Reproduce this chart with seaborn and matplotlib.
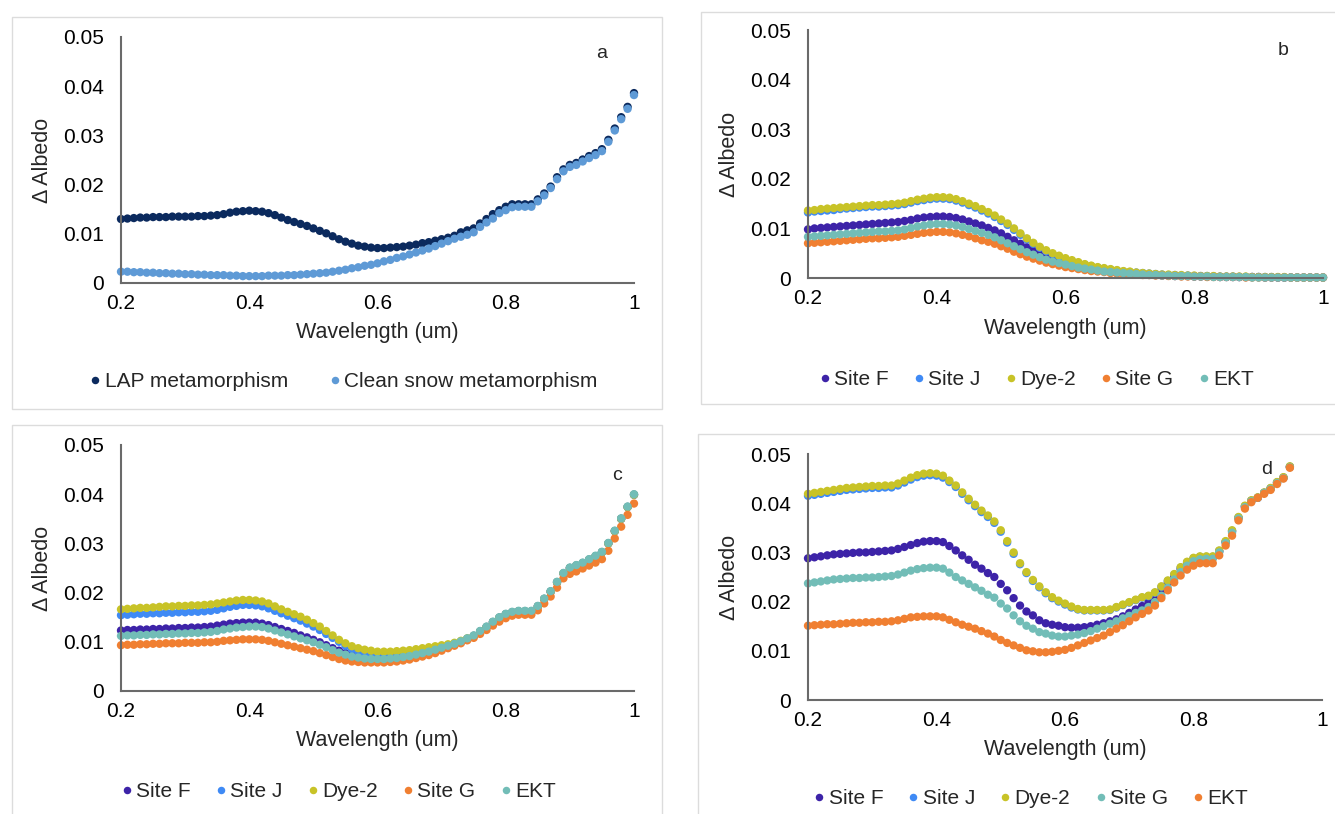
import numpy as np
import pandas as pd
import seaborn as sns
import matplotlib.pyplot as plt
from matplotlib.patches import Rectangle

# wavelength grid (um), 0.01 step
wl = np.round(np.arange(0.20, 1.001, 0.01), 2)
wl_d = wl[:76]  # panel d stops at 0.95

y_ticks = [0, 0.01, 0.02, 0.03, 0.04, 0.05]
y_tick_labels = ['0', '0.01', '0.02', '0.03', '0.04', '0.05']
x_ticks = [0.2, 0.4, 0.6, 0.8, 1.0]
x_tick_labels = ['0.2', '0.4', '0.6', '0.8', '1']

# ---- panel a
a_names = ['LAP metamorphism', 'Clean snow metamorphism']
a_lap = [0.0130, 0.0131, 0.0132, 0.0133, 0.0133, 0.0134, 0.0134, 0.0134, 0.0135, 0.0135,
         0.0135, 0.0135, 0.0136, 0.0136, 0.0137, 0.0138, 0.0140, 0.0143, 0.0145, 0.0146,
         0.0147, 0.0146, 0.0145, 0.0142, 0.0138, 0.0133, 0.0128, 0.0124, 0.0120, 0.0116,
         0.0111, 0.0106, 0.0101, 0.0095, 0.0089, 0.0084, 0.0080, 0.0076, 0.0074, 0.0072,
         0.0071, 0.0071, 0.0072, 0.0073, 0.0074, 0.0076, 0.0078, 0.0081, 0.0083, 0.0086,
         0.0089, 0.0092, 0.0096, 0.0103, 0.0107, 0.0111, 0.0121, 0.0130, 0.0140, 0.0148,
         0.0155, 0.0160, 0.0160, 0.0160, 0.0160, 0.0170, 0.0182, 0.0196, 0.0215, 0.0231,
         0.0240, 0.0244, 0.0251, 0.0258, 0.0264, 0.0272, 0.0291, 0.0314, 0.0337, 0.0358, 0.0386]
a_clean = [0.0023, 0.0023, 0.0022, 0.0022, 0.0021, 0.0021, 0.0020, 0.0020, 0.0019, 0.0019,
           0.0018, 0.0018, 0.0017, 0.0017, 0.0016, 0.0016, 0.0016, 0.0015, 0.0015, 0.0014,
           0.0014, 0.0014, 0.0014, 0.0015, 0.0015, 0.0015, 0.0016, 0.0016, 0.0017, 0.0018,
           0.0019, 0.0020, 0.0021, 0.0023, 0.0025, 0.0027, 0.0030, 0.0032, 0.0035, 0.0037,
           0.0040, 0.0044, 0.0047, 0.0051, 0.0054, 0.0058, 0.0062, 0.0066, 0.0070, 0.0075,
           0.0080, 0.0085, 0.0090, 0.0094, 0.0098, 0.0103, 0.0114, 0.0123, 0.0131, 0.0142,
           0.0148, 0.0154, 0.0155, 0.0155, 0.0155, 0.0166, 0.0178, 0.0193, 0.0211, 0.0227,
           0.0236, 0.0240, 0.0247, 0.0254, 0.0260, 0.0268, 0.0287, 0.0310, 0.0333, 0.0354, 0.0382]

# ---- panel b
b_names = ['Site F', 'Site J', 'Dye-2', 'Site G', 'EKT']
b_sitef = [0.0098, 0.0100, 0.0101, 0.0102, 0.0103, 0.0104, 0.0105, 0.0106, 0.0107, 0.0108,
           0.0109, 0.0110, 0.0111, 0.0112, 0.0113, 0.0115, 0.0117, 0.0120, 0.0122, 0.0123,
           0.0124, 0.0124, 0.0123, 0.0121, 0.0118, 0.0114, 0.0110, 0.0106, 0.0101, 0.0096,
           0.0090, 0.0083, 0.0076, 0.0069, 0.0062, 0.0055, 0.0049, 0.0044, 0.0039, 0.0035,
           0.0031, 0.0028, 0.0025, 0.0022, 0.0019, 0.0017, 0.0015, 0.0013, 0.0012, 0.0010,
           0.0009, 0.0008, 0.0007, 0.0007, 0.0006, 0.0005, 0.0005, 0.0004, 0.0004, 0.0004,
           0.0003, 0.0003, 0.0003, 0.0003, 0.0002, 0.0002, 0.0002, 0.0002, 0.0002, 0.0002,
           0.0002, 0.0001, 0.0001, 0.0001, 0.0001, 0.0001, 0.0001, 0.0001, 0.0001, 0.0001, 0.0001]
b_sitej = [0.0132, 0.0134, 0.0135, 0.0136, 0.0137, 0.0139, 0.0140, 0.0141, 0.0142, 0.0143,
           0.0144, 0.0144, 0.0145, 0.0146, 0.0147, 0.0149, 0.0152, 0.0155, 0.0157, 0.0159,
           0.0160, 0.0160, 0.0159, 0.0156, 0.0152, 0.0147, 0.0142, 0.0136, 0.0130, 0.0123,
           0.0115, 0.0107, 0.0097, 0.0087, 0.0078, 0.0069, 0.0061, 0.0054, 0.0048, 0.0043,
           0.0038, 0.0034, 0.0030, 0.0027, 0.0024, 0.0021, 0.0019, 0.0017, 0.0015, 0.0013,
           0.0012, 0.0011, 0.0010, 0.0009, 0.0008, 0.0007, 0.0006, 0.0006, 0.0005, 0.0005,
           0.0004, 0.0004, 0.0004, 0.0003, 0.0003, 0.0003, 0.0003, 0.0002, 0.0002, 0.0002,
           0.0002, 0.0002, 0.0002, 0.0001, 0.0001, 0.0001, 0.0001, 0.0001, 0.0001, 0.0001, 0.0001]
b_dye2 = [0.0136, 0.0137, 0.0139, 0.0140, 0.0141, 0.0142, 0.0143, 0.0144, 0.0145, 0.0146,
          0.0147, 0.0147, 0.0148, 0.0149, 0.0150, 0.0152, 0.0155, 0.0158, 0.0160, 0.0162,
          0.0163, 0.0163, 0.0162, 0.0159, 0.0155, 0.0150, 0.0145, 0.0139, 0.0133, 0.0126,
          0.0118, 0.0110, 0.0100, 0.0090, 0.0080, 0.0071, 0.0063, 0.0056, 0.0050, 0.0045,
          0.0040, 0.0036, 0.0032, 0.0028, 0.0025, 0.0022, 0.0020, 0.0018, 0.0016, 0.0014,
          0.0013, 0.0011, 0.0010, 0.0009, 0.0008, 0.0007, 0.0007, 0.0006, 0.0006, 0.0005,
          0.0005, 0.0004, 0.0004, 0.0004, 0.0003, 0.0003, 0.0003, 0.0003, 0.0003, 0.0002,
          0.0002, 0.0002, 0.0002, 0.0002, 0.0002, 0.0001, 0.0001, 0.0001, 0.0001, 0.0001, 0.0001]
b_siteg = [0.0070, 0.0071, 0.0072, 0.0073, 0.0074, 0.0075, 0.0076, 0.0077, 0.0078, 0.0079,
           0.0080, 0.0080, 0.0081, 0.0082, 0.0083, 0.0085, 0.0087, 0.0089, 0.0091, 0.0092,
           0.0093, 0.0093, 0.0092, 0.0090, 0.0087, 0.0084, 0.0080, 0.0076, 0.0073, 0.0069,
           0.0064, 0.0059, 0.0053, 0.0048, 0.0043, 0.0039, 0.0035, 0.0031, 0.0028, 0.0025,
           0.0022, 0.0020, 0.0018, 0.0016, 0.0014, 0.0013, 0.0012, 0.0010, 0.0009, 0.0008,
           0.0008, 0.0007, 0.0006, 0.0006, 0.0005, 0.0005, 0.0004, 0.0004, 0.0003, 0.0003,
           0.0003, 0.0003, 0.0002, 0.0002, 0.0002, 0.0002, 0.0002, 0.0002, 0.0001, 0.0001,
           0.0001, 0.0001, 0.0001, 0.0001, 0.0001, 0.0001, 0.0001, 0.0001, 0.0001, 0.0001, 0.0001]
b_ekt = [0.0083, 0.0084, 0.0085, 0.0086, 0.0087, 0.0088, 0.0089, 0.0090, 0.0091, 0.0092,
         0.0093, 0.0094, 0.0094, 0.0095, 0.0096, 0.0098, 0.0101, 0.0104, 0.0106, 0.0108,
         0.0109, 0.0109, 0.0108, 0.0106, 0.0103, 0.0099, 0.0095, 0.0091, 0.0087, 0.0082,
         0.0076, 0.0070, 0.0064, 0.0058, 0.0052, 0.0047, 0.0042, 0.0037, 0.0033, 0.0030,
         0.0027, 0.0024, 0.0021, 0.0019, 0.0017, 0.0015, 0.0013, 0.0012, 0.0011, 0.0010,
         0.0009, 0.0008, 0.0007, 0.0006, 0.0006, 0.0005, 0.0005, 0.0004, 0.0004, 0.0004,
         0.0003, 0.0003, 0.0003, 0.0002, 0.0002, 0.0002, 0.0002, 0.0002, 0.0002, 0.0001,
         0.0001, 0.0001, 0.0001, 0.0001, 0.0001, 0.0001, 0.0001, 0.0001, 0.0001, 0.0001, 0.0001]

# ---- panel c
c_names = ['Site F', 'Site J', 'Dye-2', 'Site G', 'EKT']
c_sitef = [0.0123, 0.0124, 0.0124, 0.0125, 0.0125, 0.0126, 0.0126, 0.0127, 0.0127, 0.0128,
           0.0128, 0.0129, 0.0129, 0.0130, 0.0131, 0.0133, 0.0135, 0.0137, 0.0138, 0.0139,
           0.0139, 0.0139, 0.0137, 0.0134, 0.0130, 0.0126, 0.0122, 0.0118, 0.0113, 0.0109,
           0.0104, 0.0099, 0.0093, 0.0087, 0.0082, 0.0077, 0.0073, 0.0071, 0.0069, 0.0068,
           0.0068, 0.0068, 0.0068, 0.0069, 0.0070, 0.0072, 0.0074, 0.0077, 0.0080, 0.0083,
           0.0087, 0.0091, 0.0095, 0.0100, 0.0106, 0.0112, 0.0121, 0.0130, 0.0140, 0.0149,
           0.0156, 0.0160, 0.0162, 0.0162, 0.0162, 0.0172, 0.0187, 0.0202, 0.0221, 0.0239,
           0.0250, 0.0255, 0.0260, 0.0267, 0.0274, 0.0282, 0.0300, 0.0325, 0.0350, 0.0374, 0.0399]
c_sitej = [0.0154, 0.0155, 0.0156, 0.0157, 0.0157, 0.0158, 0.0158, 0.0159, 0.0159, 0.0160,
           0.0160, 0.0161, 0.0161, 0.0162, 0.0163, 0.0165, 0.0168, 0.0171, 0.0173, 0.0175,
           0.0175, 0.0174, 0.0172, 0.0168, 0.0163, 0.0158, 0.0153, 0.0148, 0.0143, 0.0137,
           0.0131, 0.0124, 0.0116, 0.0108, 0.0100, 0.0092, 0.0085, 0.0080, 0.0076, 0.0073,
           0.0072, 0.0071, 0.0071, 0.0072, 0.0073, 0.0074, 0.0076, 0.0078, 0.0081, 0.0084,
           0.0087, 0.0091, 0.0095, 0.0100, 0.0106, 0.0112, 0.0121, 0.0130, 0.0140, 0.0149,
           0.0156, 0.0160, 0.0162, 0.0162, 0.0162, 0.0172, 0.0187, 0.0202, 0.0221, 0.0239,
           0.0250, 0.0255, 0.0260, 0.0267, 0.0274, 0.0282, 0.0300, 0.0325, 0.0350, 0.0374, 0.0399]
c_dye2 = [0.0166, 0.0167, 0.0168, 0.0169, 0.0169, 0.0170, 0.0171, 0.0172, 0.0172, 0.0173,
          0.0173, 0.0174, 0.0174, 0.0175, 0.0176, 0.0178, 0.0180, 0.0182, 0.0184, 0.0185,
          0.0185, 0.0184, 0.0182, 0.0178, 0.0172, 0.0166, 0.0161, 0.0156, 0.0151, 0.0145,
          0.0138, 0.0131, 0.0122, 0.0113, 0.0104, 0.0097, 0.0091, 0.0087, 0.0084, 0.0082,
          0.0080, 0.0080, 0.0080, 0.0081, 0.0082, 0.0083, 0.0085, 0.0087, 0.0089, 0.0091,
          0.0093, 0.0095, 0.0098, 0.0102, 0.0107, 0.0112, 0.0121, 0.0130, 0.0140, 0.0149,
          0.0156, 0.0160, 0.0162, 0.0162, 0.0162, 0.0172, 0.0187, 0.0202, 0.0221, 0.0239,
          0.0250, 0.0255, 0.0260, 0.0267, 0.0274, 0.0282, 0.0300, 0.0325, 0.0350, 0.0374, 0.0399]
c_siteg = [0.0093, 0.0094, 0.0094, 0.0095, 0.0095, 0.0096, 0.0096, 0.0097, 0.0097, 0.0097,
           0.0098, 0.0098, 0.0098, 0.0099, 0.0099, 0.0100, 0.0102, 0.0103, 0.0104, 0.0105,
           0.0105, 0.0105, 0.0104, 0.0102, 0.0099, 0.0096, 0.0093, 0.0090, 0.0087, 0.0084,
           0.0081, 0.0077, 0.0073, 0.0069, 0.0065, 0.0062, 0.0060, 0.0059, 0.0058, 0.0058,
           0.0058, 0.0058, 0.0059, 0.0060, 0.0062, 0.0064, 0.0067, 0.0070, 0.0073, 0.0077,
           0.0082, 0.0087, 0.0092, 0.0097, 0.0103, 0.0108, 0.0116, 0.0124, 0.0133, 0.0141,
           0.0148, 0.0153, 0.0155, 0.0155, 0.0155, 0.0164, 0.0178, 0.0192, 0.0210, 0.0229,
           0.0238, 0.0243, 0.0249, 0.0255, 0.0261, 0.0268, 0.0285, 0.0310, 0.0334, 0.0358, 0.0381]
c_ekt = [0.0112, 0.0113, 0.0113, 0.0114, 0.0114, 0.0115, 0.0115, 0.0116, 0.0116, 0.0117,
         0.0117, 0.0118, 0.0118, 0.0119, 0.0120, 0.0122, 0.0125, 0.0127, 0.0129, 0.0130,
         0.0131, 0.0131, 0.0130, 0.0127, 0.0123, 0.0119, 0.0115, 0.0111, 0.0107, 0.0103,
         0.0099, 0.0094, 0.0089, 0.0083, 0.0078, 0.0074, 0.0070, 0.0068, 0.0066, 0.0065,
         0.0065, 0.0065, 0.0066, 0.0067, 0.0069, 0.0071, 0.0074, 0.0077, 0.0080, 0.0084,
         0.0088, 0.0092, 0.0096, 0.0101, 0.0107, 0.0113, 0.0122, 0.0131, 0.0141, 0.0150,
         0.0157, 0.0161, 0.0163, 0.0163, 0.0163, 0.0173, 0.0188, 0.0203, 0.0222, 0.0240,
         0.0251, 0.0256, 0.0261, 0.0268, 0.0275, 0.0283, 0.0301, 0.0326, 0.0351, 0.0375, 0.0400]

# ---- panel d (note: Site G teal, EKT orange here)
d_names = ['Site F', 'Site J', 'Dye-2', 'Site G', 'EKT']
d_sitef = [0.0288, 0.0290, 0.0292, 0.0294, 0.0296, 0.0297, 0.0298, 0.0299, 0.0300, 0.0300,
           0.0301, 0.0302, 0.0303, 0.0304, 0.0307, 0.0311, 0.0315, 0.0319, 0.0322, 0.0323,
           0.0323, 0.0321, 0.0313, 0.0304, 0.0294, 0.0285, 0.0275, 0.0267, 0.0258, 0.0250,
           0.0236, 0.0223, 0.0207, 0.0192, 0.0180, 0.0172, 0.0162, 0.0156, 0.0153, 0.0151,
           0.0148, 0.0147, 0.0147, 0.0148, 0.0150, 0.0153, 0.0156, 0.0160, 0.0164, 0.0170,
           0.0177, 0.0184, 0.0191, 0.0199, 0.0209, 0.0223, 0.0238, 0.0252, 0.0266, 0.0278,
           0.0286, 0.0290, 0.0290, 0.0290, 0.0302, 0.0321, 0.0343, 0.0370, 0.0393, 0.0405,
           0.0411, 0.0421, 0.0430, 0.0442, 0.0452, 0.0474]
d_sitej = [0.0415, 0.0417, 0.0419, 0.0421, 0.0423, 0.0425, 0.0427, 0.0428, 0.0429, 0.0430,
           0.0431, 0.0431, 0.0432, 0.0432, 0.0436, 0.0442, 0.0448, 0.0453, 0.0456, 0.0457,
           0.0456, 0.0452, 0.0443, 0.0433, 0.0419, 0.0406, 0.0394, 0.0382, 0.0372, 0.0360,
           0.0342, 0.0320, 0.0297, 0.0276, 0.0258, 0.0242, 0.0229, 0.0217, 0.0207, 0.0200,
           0.0194, 0.0188, 0.0184, 0.0182, 0.0182, 0.0182, 0.0182, 0.0183, 0.0188, 0.0193,
           0.0198, 0.0203, 0.0208, 0.0211, 0.0218, 0.0230, 0.0242, 0.0255, 0.0269, 0.0280,
           0.0288, 0.0291, 0.0291, 0.0291, 0.0303, 0.0322, 0.0344, 0.0371, 0.0394, 0.0405,
           0.0411, 0.0421, 0.0430, 0.0442, 0.0452, 0.0474]
d_dye2 = [0.0419, 0.0421, 0.0423, 0.0425, 0.0427, 0.0429, 0.0431, 0.0432, 0.0433, 0.0434,
          0.0435, 0.0435, 0.0436, 0.0436, 0.0440, 0.0446, 0.0452, 0.0457, 0.0460, 0.0461,
          0.0460, 0.0456, 0.0446, 0.0436, 0.0422, 0.0409, 0.0397, 0.0385, 0.0375, 0.0363,
          0.0345, 0.0323, 0.0300, 0.0278, 0.0260, 0.0244, 0.0231, 0.0219, 0.0209, 0.0202,
          0.0196, 0.0190, 0.0185, 0.0183, 0.0183, 0.0183, 0.0183, 0.0184, 0.0189, 0.0194,
          0.0199, 0.0204, 0.0209, 0.0212, 0.0219, 0.0231, 0.0243, 0.0256, 0.0270, 0.0281,
          0.0289, 0.0292, 0.0292, 0.0292, 0.0304, 0.0323, 0.0345, 0.0372, 0.0395, 0.0406,
          0.0412, 0.0422, 0.0431, 0.0443, 0.0453, 0.0475]
d_siteg = [0.0237, 0.0239, 0.0241, 0.0243, 0.0245, 0.0246, 0.0247, 0.0248, 0.0248, 0.0249,
           0.0249, 0.0250, 0.0251, 0.0252, 0.0255, 0.0259, 0.0263, 0.0266, 0.0268, 0.0269,
           0.0269, 0.0267, 0.0259, 0.0250, 0.0243, 0.0236, 0.0229, 0.0222, 0.0214, 0.0208,
           0.0196, 0.0186, 0.0172, 0.0160, 0.0151, 0.0145, 0.0138, 0.0135, 0.0131, 0.0129,
           0.0129, 0.0131, 0.0133, 0.0136, 0.0140, 0.0145, 0.0150, 0.0155, 0.0160, 0.0166,
           0.0171, 0.0177, 0.0182, 0.0189, 0.0199, 0.0212, 0.0228, 0.0245, 0.0260, 0.0273,
           0.0282, 0.0286, 0.0287, 0.0287, 0.0300, 0.0319, 0.0340, 0.0369, 0.0392, 0.0404,
           0.0411, 0.0421, 0.0429, 0.0441, 0.0451, 0.0473]
d_ekt = [0.0151, 0.0152, 0.0153, 0.0154, 0.0154, 0.0155, 0.0156, 0.0157, 0.0157, 0.0158,
         0.0158, 0.0159, 0.0159, 0.0160, 0.0162, 0.0165, 0.0168, 0.0169, 0.0170, 0.0170,
         0.0170, 0.0168, 0.0163, 0.0158, 0.0153, 0.0149, 0.0145, 0.0140, 0.0135, 0.0129,
         0.0122, 0.0116, 0.0111, 0.0106, 0.0101, 0.0099, 0.0097, 0.0097, 0.0098, 0.0100,
         0.0102, 0.0106, 0.0111, 0.0116, 0.0121, 0.0126, 0.0131, 0.0138, 0.0145, 0.0152,
         0.0160, 0.0168, 0.0175, 0.0182, 0.0192, 0.0207, 0.0223, 0.0239, 0.0253, 0.0265,
         0.0273, 0.0278, 0.0278, 0.0278, 0.0294, 0.0314, 0.0334, 0.0365, 0.0389, 0.0402,
         0.0411, 0.0419, 0.0427, 0.0439, 0.0450, 0.0472]

PURPLE = '#3d23a8'
BLUE = '#3f8af5'
OLIVE = '#c8c327'
ORANGE = '#f07f31'
TEAL = '#72bdb7'

sns.set_style('white')
plt.rcParams['font.family'] = ['Liberation Sans', 'DejaVu Sans']

W, H = 1335, 814
fig = plt.figure(figsize=(W / 100, H / 100), dpi=100)


def px_rect(left, top, right, bottom):
    return [left / W, 1 - bottom / H, (right - left) / W, (bottom - top) / H]


def panel_border(left, top, right, bottom):
    fig.add_artist(Rectangle((left / W, 1 - bottom / H), (right - left) / W, (bottom - top) / H,
                             transform=fig.transFigure, fill=False, ec='#dcdcdc', lw=1))


def draw_panel(box, x, names, values, colors, letter, letter_xy, legend_y, legend_x, colspace):
    ax = fig.add_axes(px_rect(*box))
    df = pd.concat([pd.DataFrame({'wl': x, 'albedo': v, 'series': n})
                    for n, v in zip(names, values)], ignore_index=True)
    sns.scatterplot(data=df, x='wl', y='albedo', hue='series', hue_order=names,
                    palette=dict(zip(names, colors)), s=36, linewidth=0,
                    clip_on=False, ax=ax)
    ax.set_xlim(0.2, 1.0)
    ax.set_ylim(0, 0.05)
    ax.set_xticks(x_ticks)
    ax.set_xticklabels(x_tick_labels)
    ax.set_yticks(y_ticks)
    ax.set_yticklabels(y_tick_labels)
    ax.tick_params(axis='both', length=0, labelsize=15, colors='black')
    ax.tick_params(axis='y', pad=12)
    ax.tick_params(axis='x', pad=8)
    for side in ['top', 'right']:
        ax.spines[side].set_visible(False)
    for side in ['left', 'bottom']:
        ax.spines[side].set_color('#6a6a6a')
        ax.spines[side].set_linewidth(1.5)
    ax.set_xlabel('Wavelength (um)', fontsize=15.5)
    ax.set_ylabel('Δ Albedo', fontsize=15.5)
    ax.xaxis.set_label_coords(0.5, -0.16)
    ax.yaxis.set_label_coords(-0.132, 0.5)
    ax.text(letter_xy[0], letter_xy[1], letter, transform=ax.transAxes,
            fontsize=14, ha='center', va='center')
    sns.move_legend(ax, 'center', bbox_to_anchor=(legend_x, legend_y), ncol=len(names),
                    frameon=False, title=None, fontsize=15, markerscale=0.9,
                    handletextpad=0.0, columnspacing=colspace, handlelength=0.9)
    return ax


# panel frames
panel_border(12, 17, 662, 409)
panel_border(701, 12, 1340, 404)
panel_border(12, 425, 662, 830)
panel_border(698, 434, 1340, 830)

draw_panel((121, 37, 634, 283), wl, a_names, [a_lap, a_clean], ['#0b2a5e', '#5e9ad6'],
           'a', (0.937, 0.931), -0.40, 0.43, 1.8)
draw_panel((808, 30, 1323, 278), wl, b_names, [b_sitef, b_sitej, b_dye2, b_siteg, b_ekt],
           [PURPLE, BLUE, OLIVE, ORANGE, TEAL], 'b', (0.922, 0.919), -0.41, 0.44, 1.0)
draw_panel((121, 445, 634, 691), wl, c_names, [c_sitef, c_sitej, c_dye2, c_siteg, c_ekt],
           [PURPLE, BLUE, OLIVE, ORANGE, TEAL], 'c', (0.967, 0.874), -0.41, 0.42, 1.0)
draw_panel((808, 454, 1322, 700), wl_d, d_names, [d_sitef, d_sitej, d_dye2, d_siteg, d_ekt],
           [PURPLE, BLUE, OLIVE, TEAL, ORANGE], 'd', (0.893, 0.939), -0.40, 0.43, 1.0)

fig.savefig('out.png', dpi=100, facecolor='white')
